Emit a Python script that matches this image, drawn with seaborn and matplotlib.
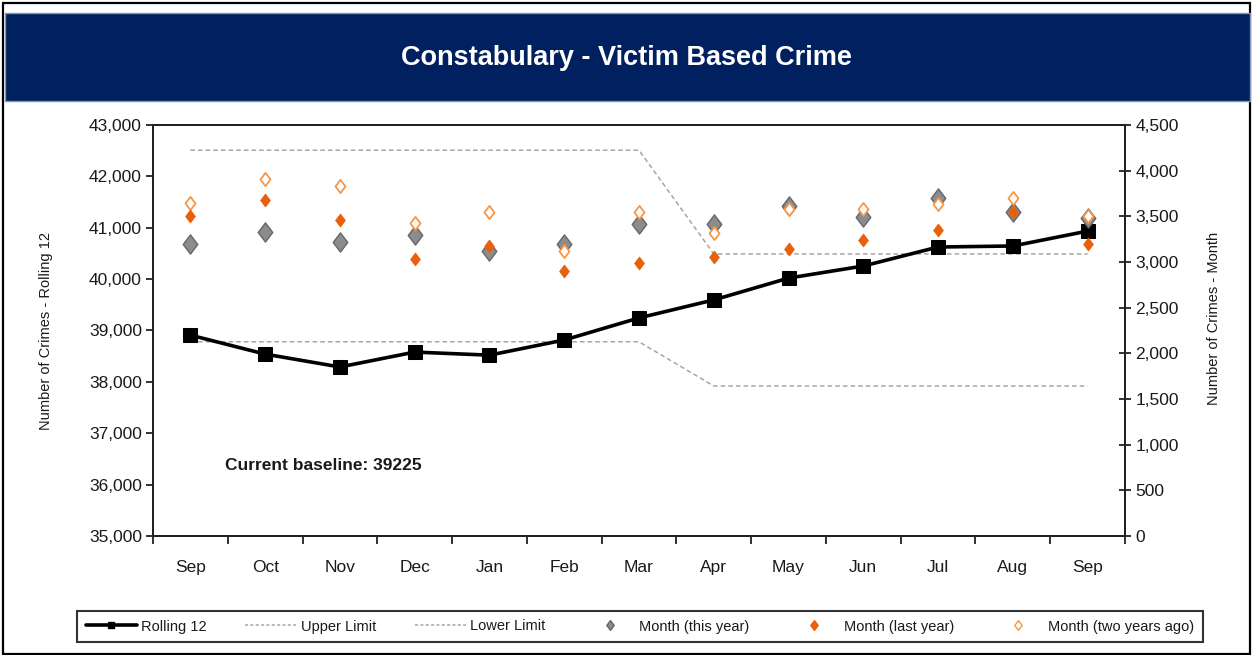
import numpy as np
import pandas as pd
import matplotlib
matplotlib.use("Agg")
import matplotlib.pyplot as plt
import seaborn as sns
from matplotlib.path import Path
from matplotlib.patches import Rectangle
from matplotlib.lines import Line2D
from matplotlib.ticker import FuncFormatter, FixedLocator, NullFormatter

# ---------------- data ----------------
months = ["Sep", "Oct", "Nov", "Dec", "Jan", "Feb", "Mar",
          "Apr", "May", "Jun", "Jul", "Aug", "Sep"]
rolling_12 = [38910, 38540, 38290, 38580, 38520, 38815, 39245,
              39595, 40020, 40255, 40625, 40645, 40935]
upper_limit = [42510, 42510, 42510, 42510, 42510, 42510, 42510,
               40490, 40490, 40490, 40490, 40490, 40490]
lower_limit = [38780, 38780, 38780, 38780, 38780, 38780, 38780,
               37920, 37920, 37920, 37920, 37920, 37920]
month_this_year = [3200, 3330, 3220, 3295, 3120, 3200, 3415,
                   3415, 3610, 3495, 3700, 3548, 3482]
month_last_year = [3505, 3680, 3460, 3035, 3175, 2900, 2990,
                   3055, 3140, 3240, 3350, 3548, 3195]
month_two_years_ago = [3645, 3910, 3830, 3425, 3548, 3120, 3548,
                       3318, 3580, 3580, 3635, 3700, 3505]
baseline_text = "Current baseline: 39225"
title = "Constabulary - Victim Based Crime"
legend_labels = ["Rolling 12", "Upper Limit", "Lower Limit", "Month (this year)",
                 "Month (last year)", "Month (two years ago)"]

x = np.arange(len(months))
df = pd.DataFrame({
    "x": x,
    "rolling": rolling_12,
    "upper": upper_limit,
    "lower": lower_limit,
    "this": month_this_year,
    "last": month_last_year,
    "two": month_two_years_ago,
})

# ---------------- style ----------------
sns.set_theme(style="white")
plt.rcParams["font.family"] = ["Liberation Sans Narrow", "Liberation Sans", "DejaVu Sans"]
text_col = "#1a1a1a"

fig = plt.figure(figsize=(12.53, 6.55), dpi=100)
fig.patch.set_facecolor("white")

# outer frame
fig.add_artist(Rectangle((0.002, 0.002), 0.996, 0.994, transform=fig.transFigure,
                         fill=False, edgecolor="black", linewidth=1.6))
# title bar
fig.add_artist(Rectangle((0.004, 1 - 101 / 655), 0.994, 88 / 655, transform=fig.transFigure,
                         facecolor="#002060", edgecolor="#8496b0", linewidth=1.0))
fig.text(0.5, 1 - 58 / 655, title, ha="center", va="center", color="white",
         fontsize=19.5, fontweight="bold")

ax = fig.add_axes([153 / 1253, 1 - 536 / 655, (1125 - 153) / 1253, (536 - 125) / 655])
ax2 = ax.twinx()

diamond = Path([(0, 1), (0.76, 0), (0, -1), (-0.76, 0), (0, 1)],
               [Path.MOVETO, Path.LINETO, Path.LINETO, Path.LINETO, Path.CLOSEPOLY])

# limits and rolling line on left axis
sns.lineplot(data=df, x="x", y="upper", ax=ax, color="#a6a6a6", linewidth=1.1,
             linestyle=(0, (3, 2)), zorder=2)
sns.lineplot(data=df, x="x", y="lower", ax=ax, color="#a6a6a6", linewidth=1.1,
             linestyle=(0, (3, 2)), zorder=2)
sns.lineplot(data=df, x="x", y="rolling", ax=ax, color="black", linewidth=2.6,
             marker="s", markersize=10, markeredgecolor="black", zorder=3)

# monthly markers on right axis
sns.scatterplot(data=df, x="x", y="this", ax=ax2, marker=diamond, s=190,
                color="#8c8c8c", edgecolor="#666666", linewidth=1.0, zorder=3)
sns.scatterplot(data=df, x="x", y="two", ax=ax2, marker=diamond, s=90,
                color="white", edgecolor="#f79646", linewidth=1.3, zorder=4)
sns.scatterplot(data=df, x="x", y="last", ax=ax2, marker=diamond, s=85,
                color="#e8600c", edgecolor="#e8600c", linewidth=0.6, zorder=5)

# axes ranges
ax.set_xlim(-0.5, 12.5)
ax.set_ylim(35000, 43000)
ax2.set_ylim(0, 4500)

ax.set_yticks(np.arange(35000, 43001, 1000))
ax2.set_yticks(np.arange(0, 4501, 500))
fmt = FuncFormatter(lambda v, p: f"{int(v):,}")
ax.yaxis.set_major_formatter(fmt)
ax2.yaxis.set_major_formatter(fmt)

ax.set_xticks(x)
ax.set_xticklabels(months)
ax.xaxis.set_minor_locator(FixedLocator(np.arange(-0.5, 13, 1)))
ax.xaxis.set_minor_formatter(NullFormatter())
ax.tick_params(axis="x", which="major", length=0, pad=17, labelsize=12.5, colors=text_col)
ax.tick_params(axis="x", which="minor", direction="out", length=6, width=1.3,
               color="#222222", bottom=True)
ax.tick_params(axis="y", direction="out", length=5, width=1.3, color="#222222",
               labelsize=12.5, labelcolor=text_col, left=True, pad=3)
ax2.tick_params(axis="y", direction="inout", length=9, width=1.3, color="#222222",
                labelsize=12.5, labelcolor=text_col, right=True, pad=3)

ax.set_xlabel("")
ax.set_ylabel("Number of Crimes - Rolling 12", fontsize=10.5, color=text_col)
ax2.set_ylabel("Number of Crimes - Month", fontsize=10.5, color=text_col)
ax.yaxis.set_label_coords(-100 / 972, 0.5)
ax2.yaxis.set_label_coords(1 + 82 / 972, 0.53)

for a in (ax, ax2):
    for sp in a.spines.values():
        sp.set_color("#222222")
        sp.set_linewidth(1.4)
ax.grid(False)
ax2.grid(False)

fig.text(225 / 1253, 1 - 465 / 655, baseline_text, fontsize=12.5, fontweight="bold",
         color=text_col, ha="left", va="center")

# legend
handles = [
    Line2D([], [], color="black", linewidth=2.6, marker="s", markersize=5),
    Line2D([], [], color="#a6a6a6", linewidth=1.1, linestyle=(0, (2, 1.5))),
    Line2D([], [], color="#a6a6a6", linewidth=1.1, linestyle=(0, (2, 1.5))),
    Line2D([], [], linestyle="none", marker=diamond, markersize=7,
           markerfacecolor="#8c8c8c", markeredgecolor="#666666"),
    Line2D([], [], linestyle="none", marker=diamond, markersize=7,
           markerfacecolor="#e8600c", markeredgecolor="#e8600c"),
    Line2D([], [], linestyle="none", marker=diamond, markersize=7,
           markerfacecolor="white", markeredgecolor="#f79646"),
]
leg = fig.legend(handles, legend_labels, loc="center", ncol=6, mode="expand",
                 bbox_to_anchor=(77 / 1253, 1 - 645 / 655, 1126 / 1253, 37 / 655),
                 frameon=True, fancybox=False, fontsize=10.5, handlelength=3.5,
                 handletextpad=0.3, borderaxespad=0, borderpad=0.6)
leg.get_frame().set_edgecolor("black")
leg.get_frame().set_linewidth(1.5)
for t in leg.get_texts():
    t.set_color(text_col)

fig.savefig("out.png", dpi=100, facecolor="white")
